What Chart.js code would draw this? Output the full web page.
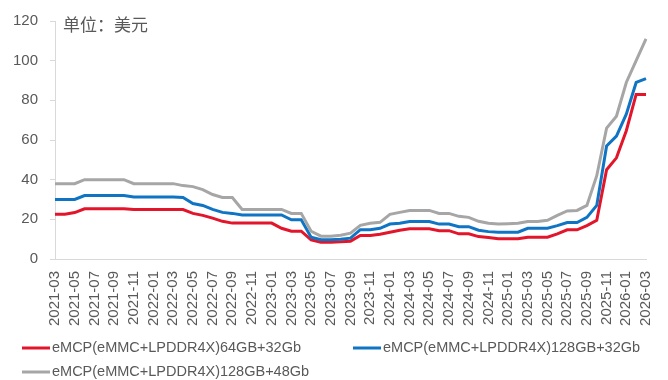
<!DOCTYPE html>
<html lang="zh">
<head>
  <meta charset="UTF-8">
  <title>eMCP 价格</title>
  <script src="https://cdn.jsdelivr.net/npm/chart.js"></script>
  <style>
    html, body { margin: 0; padding: 0; background: #fff; }
    #wrap { width: 668px; height: 380px; }
  </style>
</head>
<body>
  <div id="wrap"><canvas id="priceChart" width="668" height="380"></canvas></div>

  <script>
    // Données mensuelles, 2021-03 -> 2026-03 (unité : USD)
    const startYear = 2021, startMonth = 3, nMonths = 61;
    const months = [];
    for (let i = 0; i < nMonths; i++) {
      const m = startMonth - 1 + i;
      const y = startYear + Math.floor(m / 12);
      months.push(y + '-' + String(m % 12 + 1).padStart(2, '0'));
    }

    const seriesNames = [
      'eMCP(eMMC+LPDDR4X)64GB+32Gb',
      'eMCP(eMMC+LPDDR4X)128GB+32Gb',
      'eMCP(eMMC+LPDDR4X)128GB+48Gb'
    ];
    const seriesColors = ['#E3152B', '#0F74C4', '#A6A6A6'];

    const red = [
      22.6, 22.6, 23.4, 25.3, 25.3, 25.3, 25.3, 25.3, 24.9, 24.9,
      24.9, 24.9, 24.9, 24.9, 23.0, 22.0, 20.6, 19.0, 18.1, 18.1,
      18.1, 18.1, 18.1, 15.5, 14.0, 14.0, 9.7, 8.5, 8.5, 8.7,
      9.0, 11.9, 11.9, 12.5, 13.5, 14.5, 15.2, 15.2, 15.2, 14.3,
      14.3, 12.7, 12.7, 11.3, 10.8, 10.2, 10.2, 10.2, 11.0, 11.0,
      11.0, 12.7, 14.7, 14.7, 16.8, 19.5, 45.0, 51.0, 64.7, 83.0,
      83.0
    ];
    const blue = [
      30.0, 30.0, 30.0, 32.0, 32.0, 32.0, 32.0, 32.0, 31.3, 31.3,
      31.3, 31.3, 31.3, 31.0, 28.0, 27.0, 25.0, 23.5, 23.0, 22.2,
      22.2, 22.2, 22.2, 22.2, 19.8, 19.8, 11.0, 9.7, 9.7, 10.0,
      10.5, 14.8, 14.8, 15.5, 17.6, 18.0, 18.9, 18.9, 18.9, 17.6,
      17.6, 16.3, 16.3, 14.5, 13.8, 13.5, 13.5, 13.5, 15.5, 15.5,
      15.5, 16.8, 18.4, 18.4, 21.0, 27.0, 57.0, 62.0, 73.0, 89.0,
      91.0
    ];
    const gray = [
      38.0, 38.0, 38.0, 40.0, 40.0, 40.0, 40.0, 40.0, 38.0, 38.0,
      38.0, 38.0, 38.0, 37.0, 36.5, 35.0, 32.5, 31.0, 31.0, 25.0,
      25.0, 25.0, 25.0, 25.0, 23.0, 23.0, 14.0, 11.5, 11.5, 12.0,
      13.0, 17.0, 18.0, 18.5, 22.5, 23.5, 24.5, 24.5, 24.5, 23.0,
      23.0, 21.5, 21.0, 19.0, 18.0, 17.6, 17.8, 18.0, 18.9, 18.9,
      19.5, 22.0, 24.2, 24.5, 27.0, 42.0, 66.0, 72.0, 89.0, 100.0,
      111.0
    ];
    const yTicks = [0, 20, 40, 60, 80, 100, 120];
    const unitLabel = '单位：美元';

    const FONT = '"Liberation Sans", Arial, sans-serif';
    const CJK = '"Noto Sans CJK SC", "Liberation Sans", sans-serif';
    const TEXT = '#595959';

    // Titre "unité" dans la zone du graphique
    const unitPlugin = {
      id: 'unit',
      afterDraw(chart) {
        const c = chart.ctx, a = chart.chartArea;
        c.save();
        c.font = '17px ' + CJK;
        c.fillStyle = TEXT;
        c.textBaseline = 'top';
        c.fillText(unitLabel, a.left + 8, a.top - 5);
        c.restore();
      }
    };

    // Légende en bas, deux lignes
    const legendPlugin = {
      id: 'bottomLegend',
      afterDraw(chart) {
        const c = chart.ctx;
        const spots = [[22, 348], [353, 348], [22, 372]];
        c.save();
        c.font = '14.5px ' + FONT;
        c.textBaseline = 'middle';
        chart.data.datasets.forEach((ds, i) => {
          const [x, y] = spots[i];
          c.strokeStyle = ds.borderColor;
          c.lineWidth = 3;
          c.beginPath();
          c.moveTo(x, y);
          c.lineTo(x + 28, y);
          c.stroke();
          c.fillStyle = TEXT;
          c.fillText(ds.label, x + 30, y);
        });
        c.restore();
      }
    };

    const datasets = [red, blue, gray].map((d, i) => ({
      label: seriesNames[i],
      data: d,
      borderColor: seriesColors[i],
      backgroundColor: seriesColors[i],
      borderWidth: 3,
      pointRadius: 0,
      tension: 0,
      fill: false,
      order: 2 - i
    }));

    const ctx = document.getElementById('priceChart').getContext('2d');
    const priceChart = new Chart(ctx, {
      type: 'line',
      data: { labels: months, datasets: datasets },
      options: {
        responsive: false,
        animation: false,
        layout: { padding: { left: 10, right: 16, top: 16, bottom: 50 } },
        plugins: {
          legend: { display: false },
          tooltip: { enabled: false }
        },
        scales: {
          x: {
            type: 'category',
            offset: false,
            grid: { display: false },
            border: { display: true, color: '#D9D9D9', width: 1 },
            ticks: {
              autoSkip: false,
              maxRotation: 90,
              minRotation: 90,
              padding: 4,
              color: TEXT,
              font: { family: FONT, size: 15 },
              callback: function (v, i) { return i % 2 === 0 ? months[i] : ''; }
            },
            afterFit(scale) { scale.height = 71; }
          },
          y: {
            min: 0,
            max: 120,
            afterBuildTicks(scale) { scale.ticks = yTicks.map(v => ({ value: v })); },
            grid: {
              drawOnChartArea: false,
              drawTicks: true,
              tickLength: 5,
              color: '#D9D9D9'
            },
            border: { display: true, color: '#D9D9D9', width: 1 },
            ticks: {
              padding: 12,
              color: TEXT,
              font: { family: FONT, size: 15 }
            },
            afterFit(scale) { scale.width = 45; }
          }
        }
      },
      plugins: [unitPlugin, legendPlugin]
    });
  </script>
</body>
</html>
